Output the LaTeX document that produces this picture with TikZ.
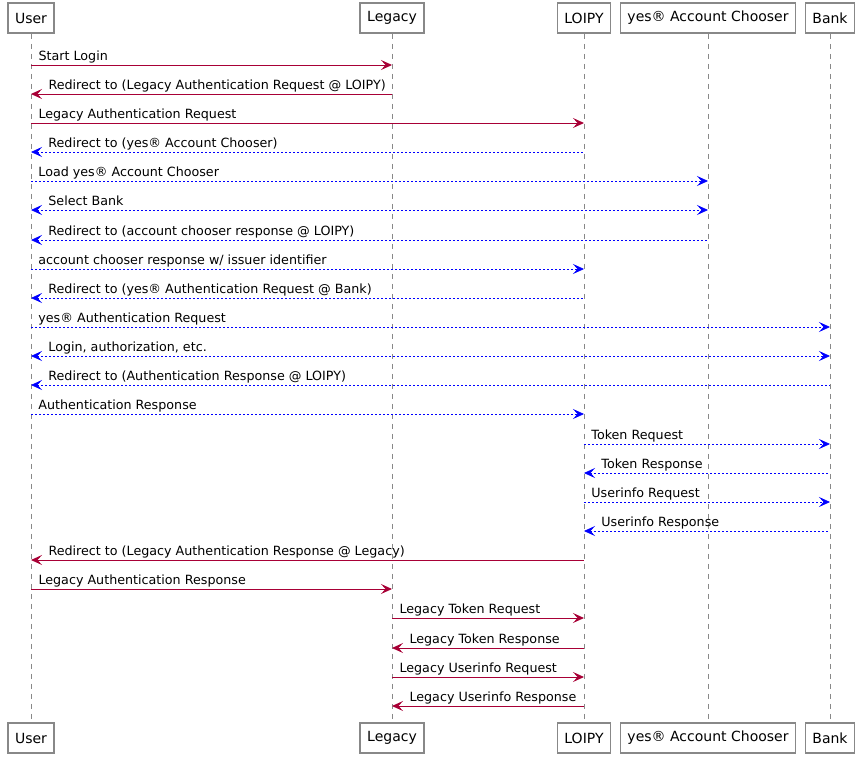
\documentclass[tikz,border=0pt]{standalone}
\usepackage{fontspec}
\setmainfont{DejaVu Sans}
\usetikzlibrary{arrows.meta}
\definecolor{umlred}{HTML}{A80036}
\definecolor{umlblue}{HTML}{0000FF}
\definecolor{umlgray}{HTML}{888888}
\tikzset{
  party/.style={draw=umlgray,line width=1.5pt,fill=white,minimum height=30pt,inner xsep=7pt,font=\fontsize{14}{16}\selectfont},
  life/.style={umlgray,line width=0.8pt,dash pattern=on 5pt off 5pt},
  tip/.tip={Stealth[length=11pt,width=10pt,inset=4.5pt]},
  sync/.style={umlred,line width=1pt,-tip},
  syncback/.style={umlred,line width=1pt,tip-},
  async/.style={umlblue,line width=0.8pt,dash pattern=on 2pt off 2pt,-tip},
  asyncback/.style={umlblue,line width=0.8pt,dash pattern=on 2pt off 2pt,tip-},
  asyncboth/.style={umlblue,line width=0.8pt,dash pattern=on 2pt off 2pt,tip-tip},
  lbl/.style={anchor=base west,yshift=5pt,inner sep=0pt,text=black,font=\fontsize{12.7}{15}\selectfont}
}
% style, left, right, y, label, label shift
\newcommand{\msg}[6]{\draw[#1] (#2 |- 0,#4) -- (#3 |- 0,#4) node[lbl,pos=0,xshift=#6] {#5};}
\begin{document}
\begin{tikzpicture}[x=1pt,y=-1pt]
\useasboundingbox (0,0) rectangle (865,763);
% participants
\node[party] (user)    at (31,18)  {User};
\node[party] (legacy)  at (392,18) {Legacy};
\node[party] (loipy)   at (584,18) {LOIPY};
\node[party] (chooser) at (708,18) {yes® Account Chooser};
\node[party] (bank)    at (830,18) {Bank};
\node[party] (user-b)    at (31,738)  {User};
\node[party] (legacy-b)  at (392,738) {Legacy};
\node[party] (loipy-b)   at (584,738) {LOIPY};
\node[party] (chooser-b) at (708,738) {yes® Account Chooser};
\node[party] (bank-b)    at (830,738) {Bank};
% lifelines
\foreach \p in {user,legacy,loipy,chooser,bank}
  \draw[life] (\p.south) -- (\p-b.north);
% messages
\msg{sync}{user}{legacy}{65}{Start Login}{7pt}
\msg{syncback}{user}{legacy}{94}{Redirect to (Legacy Authentication Request @ LOIPY)}{17pt}
\msg{sync}{user}{loipy}{123}{Legacy Authentication Request}{7pt}
\msg{asyncback}{user}{loipy}{152}{Redirect to (yes® Account Chooser)}{17pt}
\msg{async}{user}{chooser}{181}{Load yes® Account Chooser}{7pt}
\msg{asyncboth}{user}{chooser}{210}{Select Bank}{17pt}
\msg{asyncback}{user}{chooser}{240}{Redirect to (account chooser response @ LOIPY)}{17pt}
\msg{async}{user}{loipy}{269}{account chooser response w/ issuer identifier}{7pt}
\msg{asyncback}{user}{loipy}{298}{Redirect to (yes® Authentication Request @ Bank)}{17pt}
\msg{async}{user}{bank}{327}{yes® Authentication Request}{7pt}
\msg{asyncboth}{user}{bank}{356}{Login, authorization, etc.}{17pt}
\msg{asyncback}{user}{bank}{385}{Redirect to (Authentication Response @ LOIPY)}{17pt}
\msg{async}{user}{loipy}{414}{Authentication Response}{7pt}
\msg{async}{loipy}{bank}{444}{Token Request}{7pt}
\msg{asyncback}{loipy}{bank}{473}{Token Response}{17pt}
\msg{async}{loipy}{bank}{502}{Userinfo Request}{7pt}
\msg{asyncback}{loipy}{bank}{531}{Userinfo Response}{17pt}
\msg{syncback}{user}{loipy}{560}{Redirect to (Legacy Authentication Response @ Legacy)}{17pt}
\msg{sync}{user}{legacy}{589}{Legacy Authentication Response}{7pt}
\msg{sync}{legacy}{loipy}{618}{Legacy Token Request}{7pt}
\msg{syncback}{legacy}{loipy}{648}{Legacy Token Response}{17pt}
\msg{sync}{legacy}{loipy}{677}{Legacy Userinfo Request}{7pt}
\msg{syncback}{legacy}{loipy}{706}{Legacy Userinfo Response}{17pt}
\end{tikzpicture}
\end{document}
